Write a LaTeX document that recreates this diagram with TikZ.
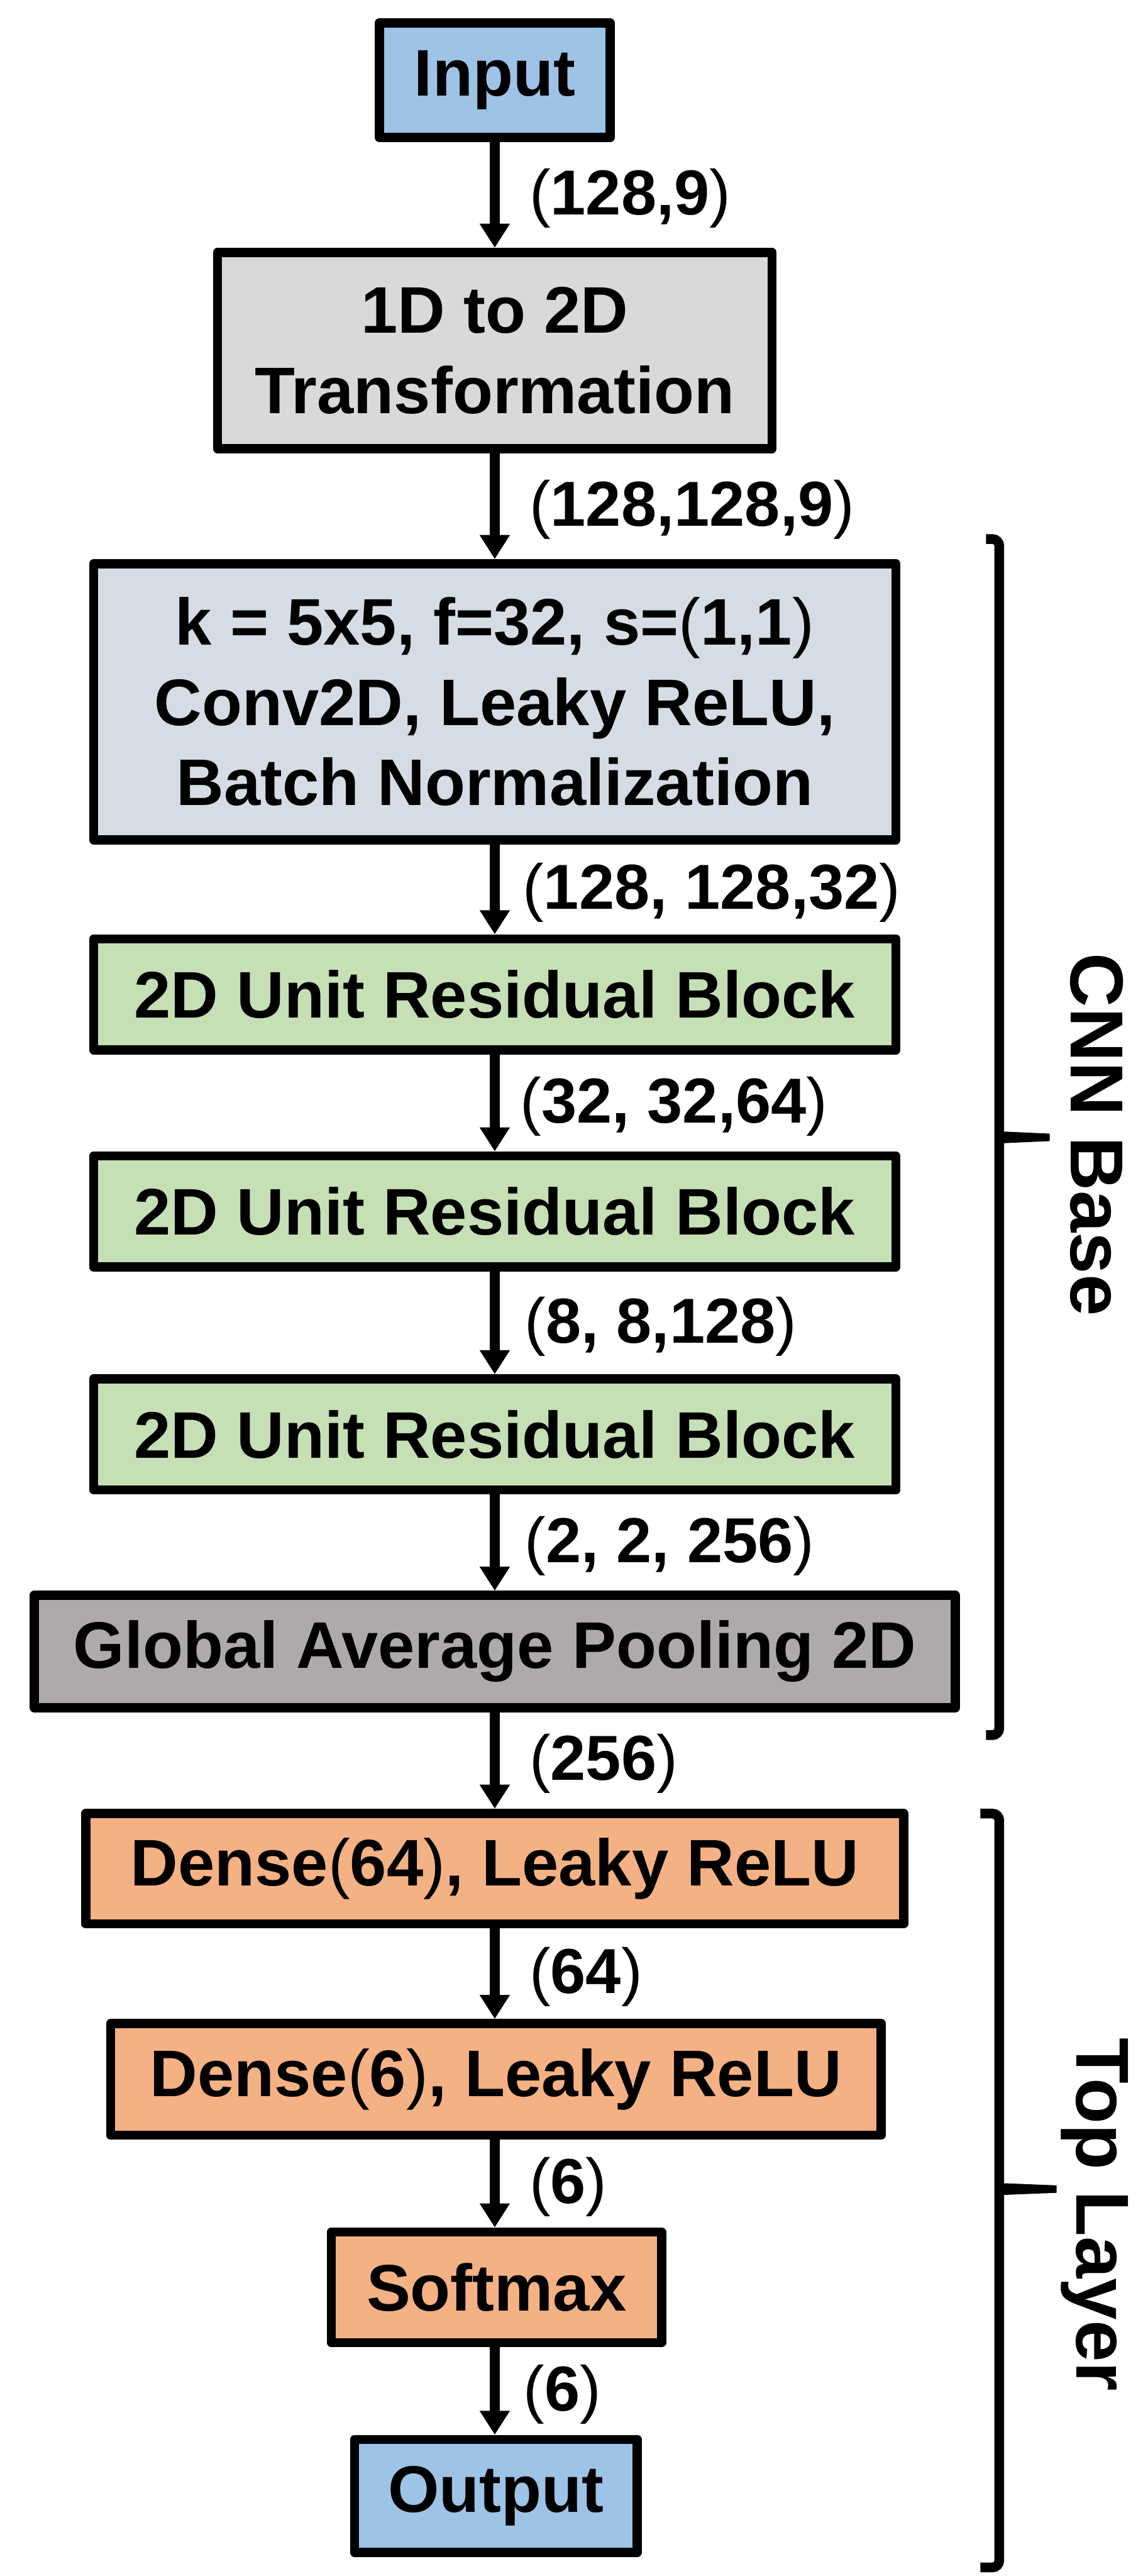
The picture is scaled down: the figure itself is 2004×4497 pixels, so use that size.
\documentclass[tikz,border=0pt]{standalone}
\usepackage{fontspec}
\setmainfont{Liberation Sans}
\usetikzlibrary{arrows.meta}
\definecolor{ioblue}{HTML}{9DC3E6}
\definecolor{tgray}{HTML}{D9D9D9}
\definecolor{convblue}{HTML}{D6DCE5}
\definecolor{resgreen}{HTML}{C5E0B4}
\definecolor{gapgray}{HTML}{AEAAAA}
\definecolor{denseor}{HTML}{F4B183}
\newcommand\lp{{\mdseries(}}
\newcommand\rp{{\mdseries)}}
\begin{document}
\begin{tikzpicture}[x=1pt,y=-1pt,
  box/.style={draw=black, line width=16pt, line join=round, align=center,
    font=\bfseries\fontsize{115}{140}\selectfont, inner sep=0pt},
  conn/.style={line width=17pt, -{Triangle[width=50pt,length=42pt]}},
  dimlab/.style={font=\bfseries\fontsize{111}{130}\selectfont, anchor=west, inner sep=0pt, xshift=52pt, yshift=-6pt},
  side/.style={rotate=-90, anchor=base, inner sep=0pt, font=\bfseries\fontsize{131}{131}\selectfont},
  brack/.style={line width=17pt, rounded corners=12pt},
]
\useasboundingbox (0,0) rectangle (2004,4497);

\node[box, fill=ioblue, minimum width=403pt, minimum height=200pt] (in) at (864,140) {Input};
\node[box, fill=tgray, minimum width=968pt, minimum height=343pt] (tr) at (864,612) {1D to 2D\\Transformation};
\node[box, fill=convblue, minimum width=1401pt, minimum height=482pt] (conv) at (864,1225) {k = 5x5, f=32, s=\lp1,1\rp\\Conv2D, Leaky ReLU,\\Batch Normalization};
\node[box, fill=resgreen, minimum width=1401pt, minimum height=194pt] (r1) at (864,1736) {2D Unit Residual Block};
\node[box, fill=resgreen, minimum width=1401pt, minimum height=194pt] (r2) at (864,2115) {2D Unit Residual Block};
\node[box, fill=resgreen, minimum width=1401pt, minimum height=194pt] (r3) at (864,2504) {2D Unit Residual Block};
\node[box, fill=gapgray, minimum width=1608pt, minimum height=196pt] (gap) at (864,2883) {Global Average Pooling 2D};
\node[box, fill=denseor, minimum width=1428pt, minimum height=193pt] (d1) at (864,3262) {Dense\lp64\rp, Leaky ReLU};
\node[box, fill=denseor, minimum width=1346pt, minimum height=195pt] (d2) at (866,3630) {Dense\lp6\rp, Leaky ReLU};
\node[box, fill=denseor, minimum width=577pt, minimum height=193pt] (sm) at (867,3993) {Softmax};
\node[box, fill=ioblue, minimum width=494pt, minimum height=197pt] (out) at (866,4357) {Output};

\draw[conn] (in.south) -- (tr.north) node[dimlab, midway] {\lp128,9\rp};
\draw[conn] (tr.south) -- (conv.north) node[dimlab, midway] {\lp128,128,9\rp};
\draw[conn] (conv.south) -- (r1.north) node[dimlab, midway, xshift=-12pt] {\lp128, 128,32\rp};
\draw[conn] (r1.south) -- (r2.north) node[dimlab, midway, xshift=-16pt] {\lp32, 32,64\rp};
\draw[conn] (r2.south) -- (r3.north) node[dimlab, midway, xshift=-8pt] {\lp8, 8,128\rp};
\draw[conn] (r3.south) -- (gap.north) node[dimlab, midway, xshift=-8pt] {\lp2, 2, 256\rp};
\draw[conn] (gap.south) -- (d1.north) node[dimlab, midway] {\lp256\rp};
\draw[conn] (d1.south) -- (d2.north -| d1.south) node[dimlab, midway] {\lp64\rp};
\draw[conn] (d2.south -| d1.south) -- (sm.north -| d1.south) node[dimlab, midway] {\lp6\rp};
\draw[conn] (sm.south -| d1.south) -- (out.north -| d1.south) node[dimlab, midway, xshift=-10pt] {\lp6\rp};

% CNN Base bracket
\coordinate (cbt) at (1722,941);
\coordinate (cbb) at (1722,3029);
\draw[brack] (cbt) -- (1745,941) -- (1745,3029) -- (cbb);
\fill (1745,1975) -- (1833,1979) -- (1833,1992) -- (1745,1996) -- cycle;
\node[side] (cnn) at (1870,1981) {CNN Base};

% Top Layer bracket
\coordinate (tlt) at (1712,3166);
\coordinate (tlb) at (1712,4482);
\draw[brack] (tlt) -- (1745,3166) -- (1745,4482) -- (tlb);
\fill (1745,3811) -- (1845,3815) -- (1845,3828) -- (1745,3832) -- cycle;
\node[side] (top) at (1880,3866) {Top Layer};
\end{tikzpicture}
\end{document}
